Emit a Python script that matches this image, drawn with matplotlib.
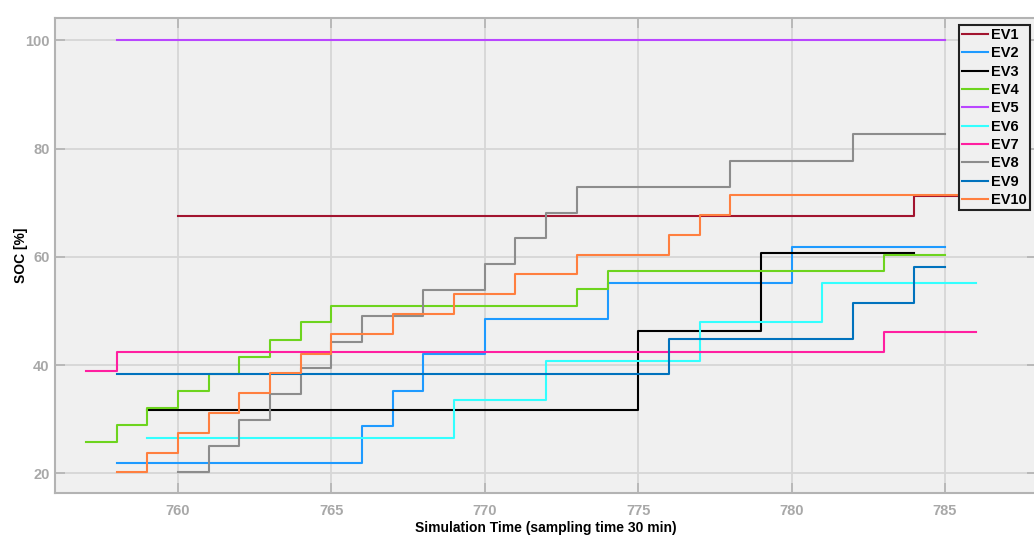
import matplotlib
matplotlib.use("Agg")
import matplotlib.pyplot as plt

# ---- data (time step, SOC [%]) ----
ev1_t = [760, 784, 786]
ev1_soc = [67.5, 71.3, 71.3]
ev2_t = [758, 766, 767, 768, 770, 774, 780, 785]
ev2_soc = [21.9, 28.7, 35.3, 42.0, 48.6, 55.2, 61.8, 61.8]
ev3_t = [759, 775, 779, 784]
ev3_soc = [31.7, 46.3, 60.7, 60.7]
ev4_t = [757, 758, 759, 760, 761, 762, 763, 764, 765, 773, 774, 783, 785]
ev4_soc = [25.8, 29.0, 32.0, 35.2, 38.4, 41.5, 44.7, 47.9, 51.0, 54.1, 57.3, 60.4, 60.4]
ev5_t = [758, 785]
ev5_soc = [100, 100]
ev6_t = [759, 769, 772, 777, 781, 786]
ev6_soc = [26.5, 33.6, 40.8, 48.0, 55.1, 55.1]
ev7_t = [757, 758, 783, 786]
ev7_soc = [38.9, 42.5, 46.1, 46.1]
ev8_t = [760, 761, 762, 763, 764, 765, 766, 768, 770, 771, 772, 773, 778, 782, 785]
ev8_soc = [20.2, 25.0, 29.8, 34.7, 39.4, 44.2, 49.0, 53.8, 58.6, 63.5, 68.2, 73.0, 77.8, 82.7, 82.7]
ev9_t = [758, 776, 782, 784, 785]
ev9_soc = [38.4, 44.9, 51.5, 58.2, 58.2]
ev10_t = [758, 759, 760, 761, 762, 763, 764, 765, 767, 769, 771, 773, 776, 777, 778, 786]
ev10_soc = [20.2, 23.7, 27.4, 31.2, 34.9, 38.5, 42.1, 45.8, 49.5, 53.2, 56.8, 60.4, 64.0, 67.7, 71.4, 71.4]

labels = ["EV1", "EV2", "EV3", "EV4", "EV5", "EV6", "EV7", "EV8", "EV9", "EV10"]
colors = ["#A2142F", "#1E9AFF", "#000000", "#6DD41E", "#B946FF",
          "#33FFFF", "#FF1FA0", "#8C8C8C", "#0072BD", "#FF7F3F"]
series = [(ev1_t, ev1_soc), (ev2_t, ev2_soc), (ev3_t, ev3_soc), (ev4_t, ev4_soc),
          (ev5_t, ev5_soc), (ev6_t, ev6_soc), (ev7_t, ev7_soc), (ev8_t, ev8_soc),
          (ev9_t, ev9_soc), (ev10_t, ev10_soc)]

xticks = [760, 765, 770, 775, 780, 785]
yticks = [20, 40, 60, 80, 100]

plt.rcParams['font.family'] = ['Liberation Sans', 'DejaVu Sans']

fig = plt.figure(figsize=(10.34, 5.38), dpi=100)
ax = fig.add_axes([55.3 / 1034, 44.7 / 538, (1037 - 55.3) / 1034, (493.3 - 18.3) / 538])
ax.set_facecolor("#f0f0f0")

for (t, s), lab, c in zip(series, labels, colors):
    ax.step(t, s, where="post", color=c, lw=1.5, label=lab)

ax.set_xlim(756, 788)
ax.set_ylim(16.3, 104.1)
ax.set_xticks(xticks)
ax.set_yticks(yticks)
ax.grid(True, color="#d6d6d6", lw=1.3)
ax.set_axisbelow(True)

for sp in ax.spines.values():
    sp.set_color("#b3b3b3")
    sp.set_linewidth(1.5)

ax.tick_params(direction="in", length=7, width=1.2, color="#b3b3b3",
               top=True, right=True, labelsize=10.5, labelcolor="#a8a8a8")
ax.tick_params(axis="x", pad=8)
ax.tick_params(axis="y", pad=4)
for lbl in ax.get_xticklabels() + ax.get_yticklabels():
    lbl.set_fontweight("bold")

ax.set_xlabel("Simulation Time (sampling time 30 min)", fontsize=10, fontweight="bold", labelpad=2)
ax.set_ylabel("SOC [%]", fontsize=10, fontweight="bold")
ax.yaxis.set_label_coords(-0.028, 0.5)

leg = ax.legend(loc="upper right", bbox_to_anchor=(0.993, 0.986), borderaxespad=0,
                fancybox=False, frameon=True, edgecolor="#222222", facecolor="#f0f0f0",
                framealpha=1, handlelength=1.8, handletextpad=0.25, labelspacing=0.3,
                borderpad=0.2, prop={"weight": "bold", "size": 10.5})
leg.get_frame().set_linewidth(1.5)

fig.savefig("out.png", dpi=100)
